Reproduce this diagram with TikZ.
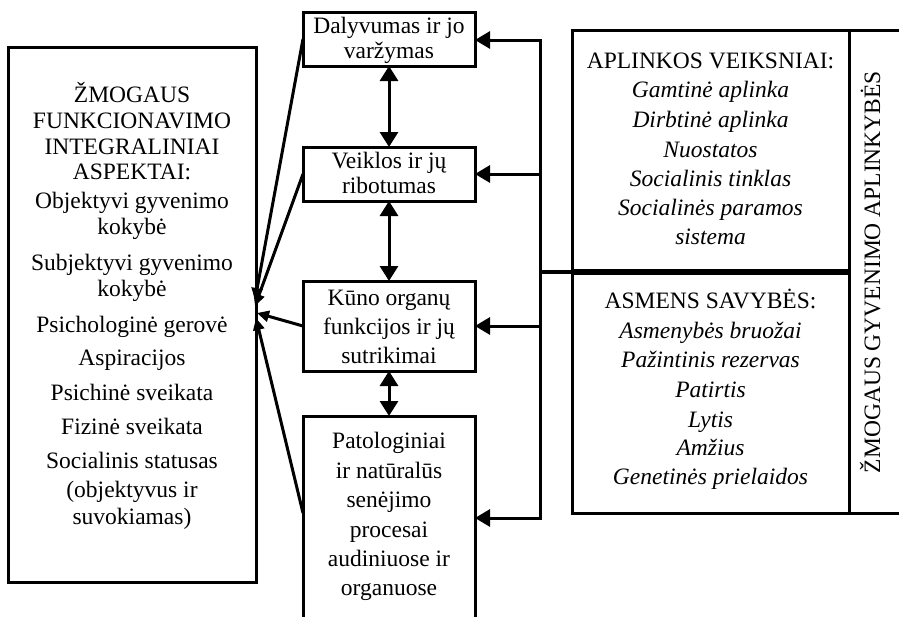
\documentclass[tikz,border=0pt]{standalone}
\usepackage{fontspec}
\setmainfont{Liberation Serif}
\usetikzlibrary{arrows.meta}
\begin{document}
\begin{tikzpicture}[x=1pt,y=-1pt,
  every node/.style={inner sep=0pt, outer sep=0pt},
  box/.style={draw, line width=3pt, rectangle},
  txt/.style={anchor=base, font=\fontsize{23.5}{28}\selectfont},
  itxt/.style={anchor=base, font=\fontsize{23.5}{28}\selectfont\itshape},
  arr/.style={line width=3pt, -{Triangle[length=15pt,width=17pt]}},
  dbl/.style={line width=3pt, {Triangle[length=15pt,width=18pt]}-{Triangle[length=15pt,width=18pt]}},
  arrs/.style={line width=3pt, -{Triangle[length=12pt,width=11pt]}}
]
\clip (0,0) rectangle (899,616);
\fill[white] (0,0) rectangle (899,616);

% left box
\node[box, minimum width=248pt, minimum height=535pt] (L) at (132,314.5) {};
\foreach \t/\y [count=\i] in {ŽMOGAUS/102, FUNKCIONAVIMO/128, INTEGRALINIAI/154, ASPEKTAI:/179,
  Objektyvi gyvenimo/208, kokybė/234, Subjektyvi gyvenimo/270, kokybė/296,
  Psichologinė gerovė/332, Aspiracijos/365, Psichinė sveikata/400, Fizinė sveikata/434,
  Socialinis statusas/468, {(objektyvus ir}/497, {suvokiamas)}/524}
  \node[txt] (l\i) at (132,\y) {\t};

% middle boxes
\node[box, minimum width=172pt, minimum height=54pt] (b1) at (389,39) {};
\node[txt] (b1a) at (389,33) {Dalyvumas ir jo};
\node[txt] (b1b) at (389,58) {varžymas};

\node[box, minimum width=172pt, minimum height=54pt] (b2) at (389,174) {};
\node[txt] (b2a) at (389,168) {Veiklos ir jų};
\node[txt] (b2b) at (389,193) {ribotumas};

\node[box, minimum width=172pt, minimum height=90pt] (b3) at (389,326) {};
\node[txt] (b3a) at (389,305) {Kūno organų};
\node[txt] (b3b) at (389,334) {funkcijos ir jų};
\node[txt] (b3c) at (389,363) {sutrikimai};

\node[box, minimum width=172pt, minimum height=224pt] (b4) at (389,528) {};
\foreach \t/\y [count=\i] in {Patologiniai/448, ir natūralūs/478, senėjimo/507,
  procesai/537, audiniuose ir/566, organuose/595}
  \node[txt] (b4\i) at (389,\y) {\t};

% right boxes
\node[box, minimum width=277pt, minimum height=242pt] (env) at (710.5,151) {};
\node[box, minimum width=277pt, minimum height=241pt] (pers) at (710.5,392.5) {};
\node[box, minimum width=66pt, minimum height=483pt] (col) at (882,271.5) {};
\draw[line width=6pt] (env.south west) -- (env.south east);

\node[txt] (e0) at (710.5,68) {APLINKOS VEIKSNIAI:};
\foreach \t/\y [count=\i] in {Gamtinė aplinka/97, Dirbtinė aplinka/127, Nuostatos/157,
  Socialinis tinklas/186, Socialinės paramos/215, sistema/244}
  \node[itxt] (e\i) at (710.5,\y) {\t};

\node[txt] (p0) at (710.5,308) {ASMENS SAVYBĖS:};
\foreach \t/\y [count=\i] in {Asmenybės bruožai/338, Pažintinis rezervas/367, Patirtis/397,
  Lytis/427, Amžius/455, Genetinės prielaidos/484}
  \node[itxt] (p\i) at (710.5,\y) {\t};

\node[txt, rotate=90] (ct) at (880,272) {ŽMOGAUS GYVENIMO APLINKYBĖS};

% bar and connectors
\coordinate (bt) at (540,40);
\coordinate (bb) at (540,518);
\coordinate (bj) at (540,272);
\draw[line width=3pt, line cap=rect] (bt) -- (bb);
\draw[line width=4pt] (bj) -- (env.south west);
\draw[arr] (bt) -- (b1.east |- bt);
\draw[arr] (bt |- b2.east) -- (b2.east);
\draw[arr] (bt |- b3.east) -- (b3.east);
\draw[arr] (bb) -- (b4.east |- bb);

\draw[dbl] (b1.south) -- (b2.north);
\draw[dbl] (b2.south) -- (b3.north);
\draw[dbl] (b3.south) -- (b4.north);

\coordinate (t1) at (255,300);
\coordinate (t2) at (255,306);
\coordinate (t3) at (257,313);
\coordinate (t4) at (256,318);
\draw[arrs] (b1.west) -- (t1);
\draw[arrs] (b2.west) -- (t2);
\draw[arrs] (b3.west) -- (t3);
\draw[arrs] ([yshift=15pt]b4.west) -- (t4);
\end{tikzpicture}
\end{document}
